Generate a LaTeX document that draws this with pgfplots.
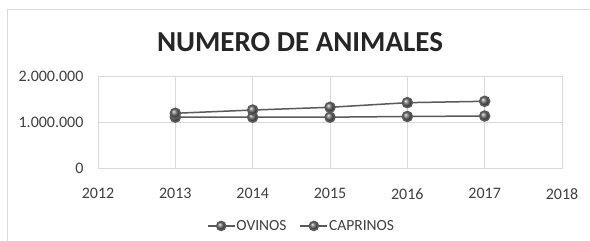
\documentclass[border=0pt]{standalone}
\usepackage{fontspec}
\setmainfont{Carlito}
\usepackage{pgfplots}
\pgfplotsset{compat=1.18}
\definecolor{txt}{HTML}{404040}
\definecolor{grd}{HTML}{D9D9D9}
\definecolor{ln}{HTML}{5A5A5A}
\definecolor{mk}{HTML}{6A6A6A}
\begin{document}
\begin{tikzpicture}
\useasboundingbox (0pt,0pt) rectangle (590pt,241pt);
\fill[white] (0pt,0pt) rectangle (590pt,241pt);
\draw[grd, line width=1pt] (7pt,0pt) -- (7pt,231pt) -- (590pt,231pt);
\node[font=\fontsize{29}{34}\selectfont\bfseries, text=black!85] at (300pt,198.5pt) {NUMERO DE ANIMALES};
\begin{axis}[
  at={(98pt,73pt)}, anchor=south west,
  scale only axis, width=464pt, height=92pt,
  xmin=2012, xmax=2018, ymin=0, ymax=2000000,
  xtick={2012,2013,2014,2015,2016,2017,2018},
  xticklabels={2012,2013,2014,2015,2016,2017,2018},
  ytick={0,1000000,2000000},
  yticklabels={0,1.000.000,2.000.000},
  scaled y ticks=false,
  major tick length=0pt,
  grid=major,
  grid style={grd, line width=0.8pt},
  axis line style={grd, line width=0.8pt},
  tick label style={font=\fontsize{16}{18}\selectfont, text=txt},
  xticklabel style={yshift=-17pt},
  yticklabel style={xshift=-11pt},
  legend style={at={(0.4375,-0.63)}, anchor=center, draw=none, fill=none,
    legend columns=2, font=\fontsize{15.5}{18}\selectfont, text=txt,
    inner sep=0pt,
    nodes={inner sep=1pt},
    /tikz/every even column/.append style={column sep=12pt}},
  legend image code/.code={\draw[mark repeat=2,mark phase=2] plot coordinates {(0pt,0pt) (13.5pt,0pt) (27pt,0pt)};},
  legend image post style={mark size=4.5pt},
  cycle list={
    {ln, line width=1.5pt, mark=ball, mark size=5pt, mark options={ball color=mk}},
    {ln, line width=1.5pt, mark=ball, mark size=5pt, mark options={ball color=mk}}},
]
\addplot coordinates {(2013,1105000) (2014,1105000) (2015,1105000) (2016,1120000) (2017,1130000)};
\addlegendentry{OVINOS}
\addplot coordinates {(2013,1190000) (2014,1260000) (2015,1320000) (2016,1420000) (2017,1450000)};
\addlegendentry{CAPRINOS}
\end{axis}
\end{tikzpicture}
\end{document}
